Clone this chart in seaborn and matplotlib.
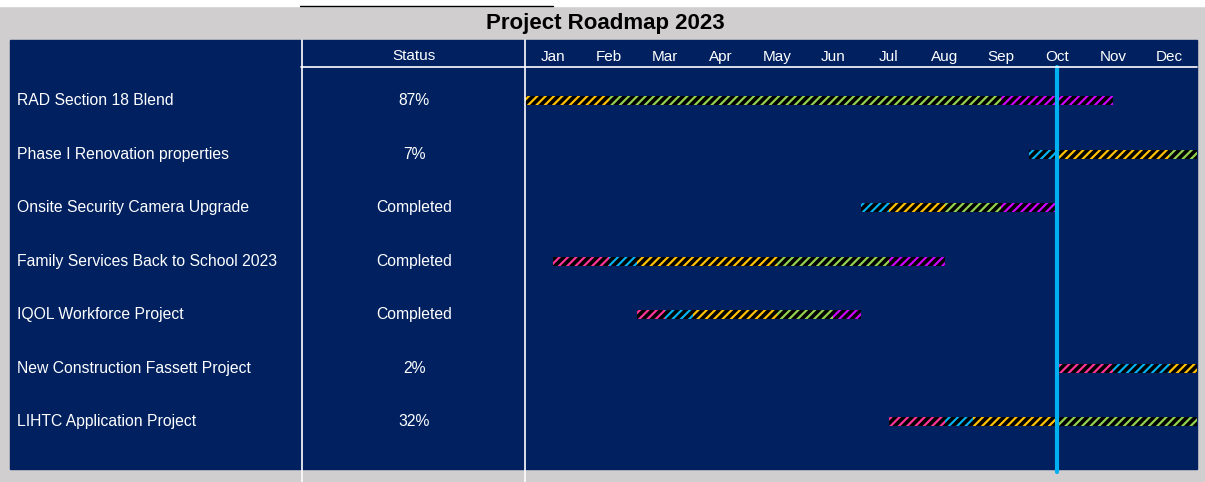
import matplotlib
matplotlib.use("Agg")
import matplotlib.pyplot as plt
import numpy as np
import pandas as pd
import seaborn as sns
from matplotlib.lines import Line2D
from matplotlib.patches import Rectangle

W, H = 1205, 482

projects = [
    "RAD Section 18 Blend",
    "Phase I Renovation properties",
    "Onsite Security Camera Upgrade",
    "Family Services Back to School 2023",
    "IQOL Workforce Project",
    "New Construction Fassett Project",
    "LIHTC Application Project",
]
statuses = ["87%", "7%", "Completed", "Completed", "Completed", "2%", "32%"]
months = ["Jan", "Feb", "Mar", "Apr", "May", "Jun", "Jul", "Aug", "Sep", "Oct", "Nov", "Dec"]
stages = ["Stage 1", "Stage 2", "Stage 3", "Stage 4", "Stage 5"]
stage_colors = ["#FF3399", "#00B0F0", "#FFC000", "#92D050", "#CC00FF"]

# (stage, start, end) in months from Jan 1
rad_section_18 = [("Stage 3", 0.0, 1.5), ("Stage 4", 1.5, 8.5), ("Stage 5", 8.5, 10.5)]
phase_i_renovation = [("Stage 2", 9.0, 9.5), ("Stage 3", 9.5, 11.5), ("Stage 4", 11.5, 12.0)]
onsite_security = [("Stage 2", 6.0, 6.5), ("Stage 3", 6.5, 7.5), ("Stage 4", 7.5, 8.5), ("Stage 5", 8.5, 9.5)]
back_to_school = [("Stage 1", 0.5, 1.5), ("Stage 2", 1.5, 2.0), ("Stage 3", 2.0, 4.5),
                  ("Stage 4", 4.5, 6.5), ("Stage 5", 6.5, 7.5)]
iqol_workforce = [("Stage 1", 2.0, 2.5), ("Stage 2", 2.5, 3.0), ("Stage 3", 3.0, 4.5),
                  ("Stage 4", 4.5, 5.5), ("Stage 5", 5.5, 6.0)]
fassett = [("Stage 1", 9.5, 10.5), ("Stage 2", 10.5, 11.5), ("Stage 3", 11.5, 12.0)]
lihtc = [("Stage 1", 6.5, 7.5), ("Stage 2", 7.5, 8.0), ("Stage 3", 8.0, 9.5), ("Stage 4", 9.5, 12.0)]
today = 9.5  # mid October

NAVY = "#002060"
GRAY = "#D0CECE"


def fx(x):
    return x / W


def fy(y):
    return 1 - y / H


def main() -> None:
    sns.set_theme(style="white")
    plt.rcParams["font.family"] = ["Liberation Sans", "DejaVu Sans"]
    plt.rcParams["hatch.linewidth"] = 1.6

    rows = []
    for i, segs in enumerate([rad_section_18, phase_i_renovation, onsite_security, back_to_school,
                              iqol_workforce, fassett, lihtc]):
        for stage, start, end in segs:
            rows.append({"row": i, "stage": stage, "start": start, "end": end})
    df = pd.DataFrame(rows)
    color_map = dict(zip(stages, stage_colors))

    fig = plt.figure(figsize=(W / 100, H / 100), dpi=100, facecolor=GRAY)

    # top strip + navy panel (behind the axes)
    fig.patches.append(Rectangle((0, fy(6)), 1, 6 / H, transform=fig.transFigure, color="white", zorder=-2))
    fig.add_artist(Line2D([fx(300), fx(553)], [fy(5.5), fy(5.5)], color="black", lw=1))
    fig.patches.append(Rectangle((fx(10), fy(469)), (1197 - 10) / W, (469 - 40) / H,
                                 transform=fig.transFigure, color=NAVY, zorder=-2))

    fig.text(fx(605), fy(23), "Project Roadmap 2023", ha="center", va="center",
             fontsize=16, fontweight="bold", color="black")

    # rows ~53.5 px apart, first row centred ~101 px from the top
    top, bottom = 67, 469
    spacing = 53.5
    first = 100.7
    ylim = ((bottom - first) / spacing, -(first - top) / spacing)

    ax = fig.add_axes([fx(525), fy(bottom), (1197 - 525) / W, (bottom - top) / H])
    ax.set_facecolor(NAVY)
    for _, r in df.iterrows():
        ax.barh(r["row"], r["end"] - r["start"], left=r["start"], height=0.17,
                color="black", edgecolor=color_map[r["stage"]], hatch="////", linewidth=0)
    ax.axvline(today, ymin=-3 / (bottom - top), ymax=1, color="#00B0F0", lw=3, clip_on=False, zorder=5)
    ax.set_xlim(0, 12)
    ax.set_ylim(*ylim)
    ax.xaxis.tick_top()
    ax.set_xticks(np.arange(12) + 0.5)
    ax.set_xticklabels(months, color="white", fontsize=11)
    ax.tick_params(axis="x", length=0, pad=2.5)
    ax.set_yticks([])
    sns.despine(ax=ax, left=True, bottom=True, right=True, top=True)

    tab = fig.add_axes([fx(10), fy(bottom), (525 - 10) / W, (bottom - top) / H], sharey=ax)
    tab.set_facecolor(NAVY)
    tab.set_xlim(10, 525)
    for i, (name, status) in enumerate(zip(projects, statuses)):
        tab.text(17, i, name, color="white", fontsize=11.3, ha="left", va="center")
        tab.text(414, i, status, color="white", fontsize=11.3, ha="center", va="center")
    tab.set_xticks([])
    tab.tick_params(axis="y", left=False, labelleft=False)
    sns.despine(ax=tab, left=True, bottom=True, right=True, top=True)

    fig.text(fx(414), fy(56), "Status", color="white", fontsize=11, ha="center", va="center")

    # grid lines of the table
    for x in (301.5, 525):
        fig.add_artist(Line2D([fx(x), fx(x)], [fy(40), fy(482)], color="white", lw=1.2, zorder=6))
    fig.add_artist(Line2D([fx(301), fx(1197)], [fy(67), fy(67)], color="white", lw=1.2, zorder=6))

    fig.savefig("out.png", dpi=100, facecolor=GRAY)
    plt.close(fig)


if __name__ == "__main__":
    main()
